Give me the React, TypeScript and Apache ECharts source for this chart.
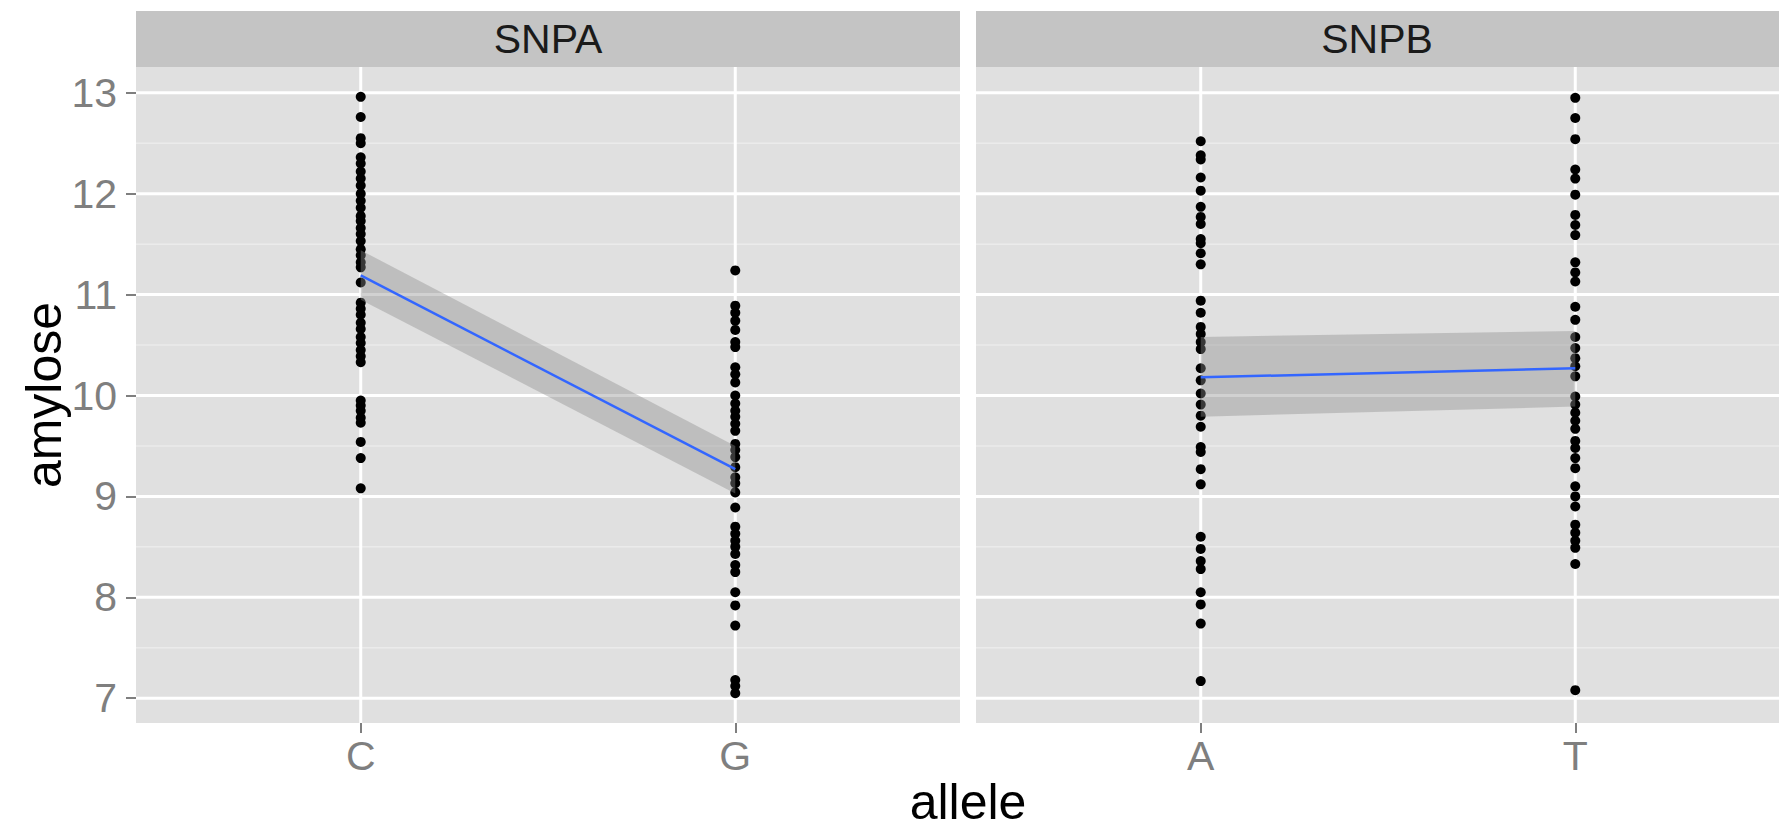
import React, { useEffect, useRef } from "react";
import * as echarts from "echarts";

// ---- data ----
const panels = ["SNPA", "SNPB"];
const categoriesA = ["C", "G"];
const categoriesB = ["A", "T"];

const amyloseC = [12.96, 12.76, 12.55, 12.5, 12.36, 12.3, 12.22, 12.15, 12.08, 12.0, 11.93, 11.86, 11.78, 11.73, 11.66, 11.6, 11.53, 11.45, 11.39, 11.32, 11.27, 11.12, 10.92, 10.86, 10.8, 10.72, 10.66, 10.58, 10.52, 10.45, 10.39, 10.33, 9.95, 9.9, 9.85, 9.78, 9.73, 9.54, 9.38, 9.08];
const amyloseG = [11.24, 10.89, 10.82, 10.74, 10.65, 10.53, 10.48, 10.28, 10.21, 10.13, 10.0, 9.92, 9.85, 9.79, 9.72, 9.65, 9.52, 9.46, 9.39, 9.29, 9.19, 9.13, 9.04, 8.89, 8.7, 8.63, 8.56, 8.5, 8.43, 8.32, 8.25, 8.05, 7.92, 7.72, 7.18, 7.12, 7.05];
const amyloseA = [12.52, 12.38, 12.34, 12.16, 12.03, 11.87, 11.77, 11.7, 11.55, 11.51, 11.41, 11.3, 10.94, 10.82, 10.68, 10.61, 10.53, 10.46, 10.27, 10.15, 10.02, 9.91, 9.8, 9.69, 9.49, 9.44, 9.27, 9.12, 8.6, 8.48, 8.36, 8.28, 8.05, 7.93, 7.74, 7.17];
const amyloseT = [12.95, 12.75, 12.54, 12.24, 12.15, 11.99, 11.79, 11.69, 11.59, 11.32, 11.22, 11.13, 10.88, 10.75, 10.58, 10.47, 10.37, 10.29, 10.19, 9.99, 9.91, 9.83, 9.75, 9.67, 9.55, 9.48, 9.38, 9.28, 9.1, 9.0, 8.9, 8.72, 8.64, 8.56, 8.49, 8.33, 7.08];

// linear fit (mean) and its confidence band, per panel, at positions 1 and 2
const fitMeanA = [11.19, 9.27];
const fitLowerA = [10.95, 9.03];
const fitUpperA = [11.44, 9.5];
const fitMeanB = [10.18, 10.27];
const fitLowerB = [9.79, 9.89];
const fitUpperB = [10.58, 10.64];

const yTicks = [7, 8, 9, 10, 11, 12, 13];
const yMinorTicks = [7.5, 8.5, 9.5, 10.5, 11.5, 12.5];

const FONT = "'Liberation Sans', Arial, Helvetica, sans-serif";
const X_MIN = 0.4;
const X_MAX = 2.6;

export default function App() {
  const ref = useRef<HTMLDivElement>(null);

  useEffect(() => {
    if (!ref.current) return;
    const chart = echarts.init(ref.current, null, { renderer: "svg" });

    const all = [...amyloseC, ...amyloseG, ...amyloseA, ...amyloseT];
    const dMin = Math.min(...all);
    const dMax = Math.max(...all);
    const pad = (dMax - dMin) * 0.05;
    const yMin = dMin - pad;
    const yMax = dMax + pad;

    const cats = [categoriesA, categoriesB];
    const points = [
      [...amyloseC.map((v) => [1, v]), ...amyloseG.map((v) => [2, v])],
      [...amyloseA.map((v) => [1, v]), ...amyloseT.map((v) => [2, v])],
    ];
    const fits = [
      { mean: fitMeanA, lo: fitLowerA, hi: fitUpperA },
      { mean: fitMeanB, lo: fitLowerB, hi: fitUpperB },
    ];

    const grids = [
      { left: 136, top: 67, width: 824, height: 656 },
      { left: 976, top: 67, width: 824, height: 656 },
    ].map((g) => ({ ...g, show: true, backgroundColor: "#E0E0E0", borderWidth: 0 }));

    const xAxes = [0, 1].map((i) => ({
      type: "value",
      gridIndex: i,
      min: X_MIN,
      max: X_MAX,
      axisLine: { show: false },
      splitLine: { show: false },
      axisTick: { show: true, customValues: [1, 2], length: 10, lineStyle: { color: "#7F7F7F", width: 2 } },
      axisLabel: {
        customValues: [1, 2],
        formatter: (v: number) => cats[i][Math.round(v) - 1] ?? "",
        color: "#7F7F7F",
        fontSize: 41,
        fontFamily: FONT,
        margin: 12,
      },
    }));

    const yAxes = [0, 1].map((i) => ({
      type: "value",
      gridIndex: i,
      min: yMin,
      max: yMax,
      axisLine: { show: false },
      splitLine: { show: false },
      axisTick: { show: i === 0, customValues: yTicks, length: 10, lineStyle: { color: "#7F7F7F", width: 2 } },
      axisLabel: {
        show: i === 0,
        customValues: yTicks,
        color: "#7F7F7F",
        fontSize: 41,
        fontFamily: FONT,
        margin: 19,
      },
    }));

    const series: any[] = [];
    [0, 1].forEach((i) => {
      // horizontal grid lines
      series.push({
        type: "custom",
        xAxisIndex: i,
        yAxisIndex: i,
        z: 1,
        silent: true,
        clip: false,
        data: [...yMinorTicks.map((v) => [1, v, 0]), ...yTicks.map((v) => [1, v, 1])],
        renderItem: (_p: any, api: any) => {
          const y = api.value(1);
          const major = api.value(2);
          const a = api.coord([X_MIN, y]);
          const b = api.coord([X_MAX, y]);
          return {
            type: "line",
            shape: { x1: a[0], y1: a[1], x2: b[0], y2: b[1] },
            style: { stroke: major ? "#FFFFFF" : "#EBEBEB", lineWidth: major ? 3 : 1.5 },
          };
        },
      });
      // vertical grid lines
      series.push({
        type: "custom",
        xAxisIndex: i,
        yAxisIndex: i,
        z: 1,
        silent: true,
        data: [[1, 10], [2, 10]],
        renderItem: (_p: any, api: any) => {
          const x = api.value(0);
          const a = api.coord([x, yMin]);
          const b = api.coord([x, yMax]);
          return {
            type: "line",
            shape: { x1: a[0], y1: a[1], x2: b[0], y2: b[1] },
            style: { stroke: "#FFFFFF", lineWidth: 3 },
          };
        },
      });
      // points
      series.push({
        type: "scatter",
        xAxisIndex: i,
        yAxisIndex: i,
        z: 2,
        symbolSize: 10,
        itemStyle: { color: "#000000", opacity: 1 },
        data: points[i],
      });
      // confidence band
      const f = fits[i];
      series.push({
        type: "custom",
        xAxisIndex: i,
        yAxisIndex: i,
        z: 3,
        silent: true,
        data: [[1, f.mean[0]]],
        renderItem: (_p: any, api: any) => {
          const pts = [
            api.coord([1, f.hi[0]]),
            api.coord([2, f.hi[1]]),
            api.coord([2, f.lo[1]]),
            api.coord([1, f.lo[0]]),
          ];
          return { type: "polygon", shape: { points: pts }, style: { fill: "rgba(140,140,140,0.4)" } };
        },
      });
      // fitted line
      series.push({
        type: "line",
        xAxisIndex: i,
        yAxisIndex: i,
        z: 4,
        symbol: "none",
        silent: true,
        lineStyle: { color: "#3366FF", width: 2.5 },
        data: [[1, f.mean[0]], [2, f.mean[1]]],
      });
    });

    chart.setOption({
      animation: false,
      backgroundColor: "#FFFFFF",
      grid: grids,
      xAxis: xAxes,
      yAxis: yAxes,
      series,
      graphic: [
        { type: "rect", left: 136, top: 11, shape: { width: 824, height: 56 }, style: { fill: "#C4C4C4" }, z: 0 },
        { type: "rect", left: 976, top: 11, shape: { width: 824, height: 56 }, style: { fill: "#C4C4C4" }, z: 0 },
        {
          type: "text", x: 548, y: 39, z: 1,
          style: { text: panels[0], fontSize: 41, fontFamily: FONT, fill: "#1A1A1A", align: "center", verticalAlign: "middle" },
        },
        {
          type: "text", x: 1377, y: 39, z: 1,
          style: { text: panels[1], fontSize: 41, fontFamily: FONT, fill: "#1A1A1A", align: "center", verticalAlign: "middle" },
        },
        {
          type: "text", x: 968, y: 802, z: 1,
          style: { text: "allele", fontSize: 50, fontFamily: FONT, fill: "#000000", align: "center", verticalAlign: "middle" },
        },
        {
          type: "text", x: 44, y: 395, rotation: Math.PI / 2, z: 1,
          style: { text: "amylose", fontSize: 50, fontFamily: FONT, fill: "#000000", align: "center", verticalAlign: "middle" },
        },
      ],
    });

    return () => chart.dispose();
  }, []);

  return (
    <div
      ref={ref}
      style={{ position: "fixed", left: 0, top: 0, width: 1800, height: 829, background: "#FFFFFF" }}
    />
  );
}
